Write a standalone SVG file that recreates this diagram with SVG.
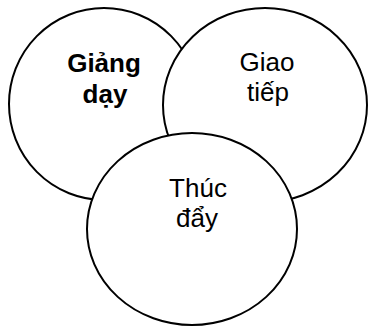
<svg xmlns="http://www.w3.org/2000/svg" width="368" height="327" viewBox="0 0 368 327">
<style>
.c{fill:#fff;stroke:#000;stroke-width:2}
.t{font-family:"Liberation Sans",Arial,sans-serif;font-size:26px;fill:#000;text-anchor:middle}
.b{font-weight:bold}
</style>
<rect width="368" height="327" fill="#fff"/>
<g id="giang-day">
<ellipse class="c" cx="104" cy="104" rx="95" ry="96"/>
<text class="t b" x="104" y="72">Giảng</text>
<text class="t b" x="105" y="103">dạy</text>
</g>
<g id="giao-tiep">
<ellipse class="c" cx="265" cy="105" rx="102" ry="97"/>
<text class="t" x="267" y="71">Giao</text>
<text class="t" x="268" y="101">tiếp</text>
</g>
<g id="thuc-day">
<ellipse class="c" cx="192" cy="229" rx="105" ry="96"/>
<text class="t" x="198" y="197">Thúc</text>
<text class="t" x="197" y="227">đẩy</text>
</g>
<g id="connectors"/>
</svg>
